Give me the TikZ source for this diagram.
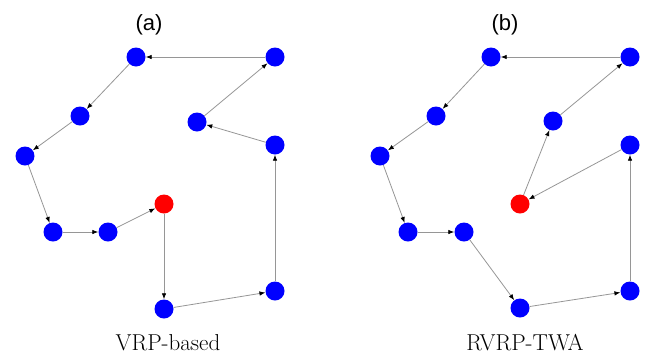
\documentclass[tikz,border=0pt]{standalone}
\usepackage{fontspec}
\newfontfamily\labelfont{Liberation Sans}
\usetikzlibrary{arrows.meta}
\begin{document}
\begin{tikzpicture}[x=1pt,y=-1pt,
  cust/.style={circle,fill={rgb,255:red,0;green,0;blue,255},minimum size=19pt,inner sep=0pt},
  depot/.style={circle,fill={rgb,255:red,255;green,0;blue,0},minimum size=19pt,inner sep=0pt},
  route/.style={draw={rgb,255:red,150;green,150;blue,150},line width=0.8pt,
    -{Latex[length=6pt,width=4.5pt,black]},shorten >=0pt},
  panellabel/.style={font=\labelfont\fontsize{22}{26}\selectfont,inner sep=0pt},
  caption/.style={font=\fontsize{23}{27}\selectfont,inner sep=0pt,anchor=base}]
\useasboundingbox (0,0) rectangle (647,354);
% panel (a)
\node[panellabel] (la) at (149,25) {(a)};
\node[cust] (a1) at (136,57) {};
\node[cust] (a2) at (275,57) {};
\node[cust] (a3) at (80,116) {};
\node[cust] (a4) at (197,122) {};
\node[cust] (a5) at (25,156) {};
\node[cust] (a6) at (275,145) {};
\node[depot] (ar) at (164,204) {};
\node[cust] (a7) at (53,232) {};
\node[cust] (a8) at (108,232) {};
\node[cust] (a9) at (164,309) {};
\node[cust] (a10) at (275,291) {};
\node[caption] (ca) at (168,350) {VRP-based};
\draw[route] (a2) -- (a1);
\draw[route] (a1) -- (a3);
\draw[route] (a3) -- (a5);
\draw[route] (a5) -- (a7);
\draw[route] (a7) -- (a8);
\draw[route] (a8) -- (ar);
\draw[route] (ar) -- (a9);
\draw[route] (a9) -- (a10);
\draw[route] (a10) -- (a6);
\draw[route] (a6) -- (a4);
\draw[route] (a4) -- (a2);
% panel (b)
\node[panellabel] (lb) at (505,25) {(b)};
\node[cust] (b1) at (491,57) {};
\node[cust] (b2) at (630,57) {};
\node[cust] (b3) at (436,116) {};
\node[cust] (b4) at (553,121) {};
\node[cust] (b5) at (380,156) {};
\node[cust] (b6) at (630,145) {};
\node[depot] (br) at (520,204) {};
\node[cust] (b7) at (408,232) {};
\node[cust] (b8) at (464,232) {};
\node[cust] (b9) at (520,308) {};
\node[cust] (b10) at (630,291) {};
\node[caption] (cb) at (525,350) {RVRP-TWA};
\draw[route] (b2) -- (b1);
\draw[route] (b1) -- (b3);
\draw[route] (b3) -- (b5);
\draw[route] (b5) -- (b7);
\draw[route] (b7) -- (b8);
\draw[route] (b8) -- (b9);
\draw[route] (b9) -- (b10);
\draw[route] (b10) -- (b6);
\draw[route] (b6) -- (br);
\draw[route] (br) -- (b4);
\draw[route] (b4) -- (b2);
\end{tikzpicture}
\end{document}
